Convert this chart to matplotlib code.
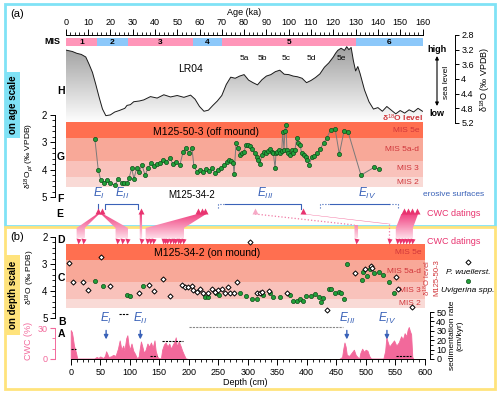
import numpy as np
import matplotlib
matplotlib.use('Agg')
import matplotlib.pyplot as plt
from matplotlib.patches import Rectangle
from matplotlib.path import Path
from matplotlib.ticker import MultipleLocator
from matplotlib.colors import LinearSegmentedColormap

plt.rcParams['font.family'] = ['Liberation Sans', 'DejaVu Sans']
plt.rcParams['mathtext.fontset'] = 'custom'
plt.rcParams['mathtext.rm'] = 'Liberation Sans'
plt.rcParams['mathtext.it'] = 'Liberation Sans:italic'
plt.rcParams['font.size'] = 6.5
plt.rcParams['axes.linewidth'] = 0.7

# ---------------- data ----------------
# marine isotope stages
mis_names = ['1', '2', '3', '4', '5', '6']
mis_start = [0, 14, 28, 57, 70, 130]
mis_end = [14, 28, 57, 70, 130, 160]
mis_colors = ['#FF96B9', '#8CC8FA', '#FF96B9', '#8CC8FA', '#FF96B9', '#8CC8FA']

# LR04 stack
lr04_age = [0, 3, 5, 7, 9, 10.5, 12, 13.5, 15, 16.5, 18, 20, 22, 24, 26.5, 27.5, 29, 30.5, 33, 35,
            38, 41, 44, 47, 50, 53, 56, 58, 60, 62, 64, 66, 68, 70, 72, 74, 76, 78, 80, 82,
            84, 86, 88, 90, 92, 94, 96, 98, 100, 102, 104, 106, 108, 110, 112, 114, 116, 118, 120, 121,
            122, 123.5, 125, 126, 127, 128, 129, 130, 131, 132, 134, 136, 138, 140, 142, 144, 146, 148, 150, 152,
            154, 156, 158, 160]
lr04_d18o = [3.21, 3.25, 3.30, 3.33, 3.40, 3.60, 3.82, 4.15, 4.50, 4.82, 5.00, 4.98, 4.90, 4.86, 4.80, 4.72, 4.70, 4.62, 4.60, 4.57,
             4.48, 4.52, 4.43, 4.49, 4.45, 4.50, 4.44, 4.55, 4.75, 4.88, 4.85, 4.72, 4.60, 4.45, 4.15, 3.95, 3.98, 3.92, 3.88, 4.03,
             4.10, 4.16, 4.02, 3.92, 3.88, 3.80, 3.76, 3.87, 3.88, 3.92, 3.94, 3.98, 4.10, 4.04, 3.96, 3.86, 3.68, 3.56, 3.40, 3.30,
             3.22, 3.16, 3.22, 3.12, 3.20, 3.14, 3.50, 3.78, 3.66, 3.85, 4.30, 4.62, 4.82, 4.78, 4.88, 4.75, 4.85, 4.95, 4.86, 4.93,
             4.84, 4.90, 4.80, 4.88]

# M125-50-3 (off mound) on age scale
g_age = [13.1, 14.6, 15.7, 17.2, 18.4, 19.9, 22.1, 23.6, 25.1, 26.1,
         27.4, 28.4, 29.6, 30.6, 31.8, 32.9, 34.2, 35.6, 36.9, 38.3,
         39.6, 40.9, 42.3, 43.6, 45.0, 46.8, 48.1, 49.5, 51.2, 52.6,
         53.9, 55.3, 56.6, 57.5, 58.9, 60.3, 61.6, 63.0, 64.3, 65.7,
         67.0, 68.4, 69.7, 71.0, 72.4, 73.3, 74.2, 75.1, 75.5, 76.4,
         77.3, 78.2, 79.1, 79.9, 80.8, 81.7, 82.6, 83.4, 84.9, 85.6,
         86.4, 87.1, 87.9, 88.9, 89.8, 90.9, 91.6, 92.4, 93.1, 93.9,
         94.3, 94.9, 95.5, 96.1, 96.9, 97.3, 97.9, 98.3, 98.8, 99.2,
         99.8, 100.6, 101.4, 102.1, 102.8, 103.6, 104.3, 105.1, 105.8, 106.9,
         107.8, 108.3, 109.2, 110.3, 111.3, 112.5, 114.0, 115.8, 117.0, 118.8,
         120.8, 122.7, 124.8, 126.6, 132.4, 138.2, 140.6]
g_d18o = [2.89, 4.01, 4.38, 4.50, 4.36, 4.50, 4.56, 4.33, 4.47, 4.48,
          4.50, 4.31, 3.95, 4.34, 3.94, 4.09, 3.83, 4.20, 3.94, 3.76,
          3.87, 3.80, 3.76, 3.65, 3.72, 3.58, 3.80, 3.72, 3.83, 3.36,
          3.21, 3.39, 3.21, 3.87, 4.09, 4.01, 4.09, 3.98, 4.05, 3.94,
          4.12, 4.01, 3.94, 3.83, 3.72, 3.65, 3.69, 3.76, 4.16, 3.03,
          3.21, 3.47, 3.39, 3.36, 3.10, 3.10, 3.14, 3.26, 3.40, 3.53,
          3.65, 3.81, 3.47, 3.34, 3.38, 3.31, 3.26, 3.34, 3.38, 3.95,
          3.40, 3.34, 3.28, 3.40, 3.31, 2.63, 3.28, 2.57, 2.35, 3.28,
          3.40, 3.48, 3.28, 3.40, 3.28, 2.85, 3.04, 3.10, 3.40, 3.47,
          3.55, 3.65, 3.83, 3.53, 3.50, 3.40, 3.26, 3.01, 2.85, 2.55,
          2.50, 3.43, 2.59, 2.61, 4.20, 3.92, 3.99]

# d18O levels of M125-50-3 (shaded bands)
band_names = ['MIS 5e', 'MIS 5a-d', 'MIS 3', 'MIS 2']
band_top = [2.27, 2.85, 3.67, 4.28]
band_bot = [2.85, 3.67, 4.28, 4.64]
band_colors = ['#FF6F50', '#F8A898', '#F9C2BB', '#F9DAD6']

# M125-34-2 (on mound) on depth scale
pw_depth = [-3, 4, 20, 30, 51, 67, 115, 132, 141, 157,
            168, 188, 194, 199, 205, 208, 214, 219, 225, 233,
            239, 245, 250, 256, 262, 267, 270, 277, 282, 304,
            315, 320, 324, 336, 366, 435, 482, 499, 509, 510,
            551, 555, 578]
pw_d18o = [2.98, 3.66, 3.66, 3.97, 2.73, 3.81, 4.09, 3.78, 4.00, 3.57,
           4.18, 3.78, 3.85, 3.87, 3.82, 3.97, 4.03, 3.94, 4.06, 4.06,
           3.94, 4.03, 3.97, 3.91, 4.06, 3.87, 4.06, 4.09, 3.66, 2.20,
           4.09, 4.07, 4.03, 4.00, 4.07, 4.69, 3.35, 3.19, 3.07, 3.14,
           3.47, 3.94, 4.60]
uv_depth = [41, 55, 96, 101, 122, 228, 233, 246, 252, 287,
            297, 307, 316, 326, 338, 343, 354, 372, 377, 383,
            389, 394, 399, 408, 414, 420, 424, 427, 438, 442,
            448, 454, 458, 463, 468, 493, 496, 503, 508, 514,
            523, 529, 540, 548]
uv_d18o = [3.62, 3.81, 4.13, 4.18, 3.81, 4.22, 4.22, 4.07, 4.16, 4.09,
           4.19, 4.28, 4.28, 4.16, 4.09, 4.22, 4.22, 4.16, 4.38, 4.38,
           4.31, 4.37, 4.19, 4.19, 4.12, 4.22, 4.40, 4.26, 3.91, 3.91,
           4.07, 4.03, 4.07, 4.31, 3.00, 3.60, 3.29, 3.45, 3.20, 3.35,
           3.29, 3.42, 3.66, 4.09]

# cold-water coral content (%)
cwc_depth = [0, 2, 3.5, 5.5, 9, 11, 40, 44, 47, 50, 55, 58, 60, 62, 64, 68, 72, 76, 80, 83,
             86, 89, 91, 94, 96, 98, 100, 103, 106, 109, 112, 115, 117, 119, 121, 124, 127, 130, 133, 136,
             139, 142, 144, 147, 150, 153, 155, 158, 161, 164, 167, 170, 173, 176, 178, 180, 183, 186, 189, 192,
             195, 200, 455, 460, 462, 464, 466, 468, 472, 476, 480, 483, 486, 489, 491, 494, 497, 500, 503, 506,
             509, 530, 533, 535, 537, 540, 544, 548, 552, 556, 560, 563, 566, 569, 571, 573, 575, 577, 579, 581]
cwc_pct = [28, 26, 21, 13, 6, 0.5, 0.5, 2, 1, 2.5, 1, 3, 7.5, 5, 2, 2.5, 4, 3, 10, 18,
           9, 13, 8, 20, 23, 14, 9, 15, 8, 5, 1, 2, 10, 17, 13, 6, 9, 15, 12, 16,
           11, 18, 8, 2, 0.5, 1, 9, 14, 16, 12, 15, 10, 14, 17, 21, 12, 17, 13, 8, 4,
           0.5, 0, 0, 2, 10, 16, 12, 4, 3, 6, 9, 4, 2, 0.5, 6, 10, 7, 9, 8, 3,
           0.5, 0.5, 8, 21, 17, 12, 15, 18, 13, 16, 22, 19, 25, 22, 28, 31, 27, 24, 2, 0]

# sedimentation rate segments (cm/kyr)
sr_start = [0, 81, 135, 155, 200, 552]
sr_end = [9, 97, 146, 190, 462, 577]
sr_value = [10.5, 48, 3, 19, 34, 3]
sr_color = ['black', 'black', 'black', 'black', '#888888', 'black']

# erosive surfaces
eros_labels = [r'$E_{I}$', r'$E_{II}$', r'$E_{III}$', r'$E_{IV}$']
eros_label_age = [14.9, 25.2, 89.4, 135.1]
eros_depth = [60, 118, 468, 536]

# CWC datings: positions on age scale (E) and depth scale (D)
date_age = [14.5, 16.3, 33.7, 59.5, 61, 62.5, 106.4, 151.5, 153.5, 155.5, 157.5]
date_age_faded = [84.9]
date_depth = [12, 21, 78, 87, 95, 119, 129, 134, 139, 156, 160, 163, 168, 173, 177, 181, 185, 190,
              484, 540, 553, 558, 563, 568, 573, 578]
# links (age0, age1, depth0, depth1)
links = [(14.0, 15.0, 10, 24), (15.8, 16.8, 76, 97), (33.2, 34.2, 117, 121),
         (59, 63, 127, 192), (150.5, 158, 551, 580)]

W, H = 500, 397
fig = plt.figure(figsize=(W / 100, H / 100), dpi=100)


def rect(x0, y0, x1, y1):
    return [x0 / W, 1 - y1 / H, (x1 - x0) / W, (y1 - y0) / H]


PINK = '#F2699B'
MAG = '#E8336F'
BLUE = '#3A62B8'
RED = '#D0353A'

# ---------------- LR04 ----------------
ax_lr = fig.add_axes(rect(65.7, 35, 422.5, 123))
ax_lr.patch.set_visible(False)
fill = ax_lr.fill_between(lr04_age, lr04_d18o, 5.2, color='none', lw=0)
grad = np.linspace(0, 1, 256).reshape(-1, 1)
cm_g = LinearSegmentedColormap.from_list('g', ['#9A9A9A', '#FFFFFF'])
im = ax_lr.imshow(grad, extent=[0, 160, 5.2, 3.0], cmap=cm_g, aspect='auto', zorder=1)
im.set_clip_path(fill.get_paths()[0], transform=ax_lr.transData)
ax_lr.plot(lr04_age, lr04_d18o, color='#1A1A1A', lw=0.7, zorder=2)
ax_lr.set_xlim(0, 160)
ax_lr.set_ylim(5.2, 2.8)
for s in ['left', 'bottom']:
    ax_lr.spines[s].set_visible(False)
ax_lr.xaxis.tick_top()
ax_lr.xaxis.set_label_position('top')
ax_lr.set_xticks(np.arange(0, 161, 10))
ax_lr.xaxis.set_minor_locator(MultipleLocator(2))
ax_lr.tick_params(axis='x', which='major', length=4, width=0.7, pad=2, labelsize=6.5)
ax_lr.tick_params(axis='x', which='minor', length=2.3, width=0.6)
ax_lr.set_xlabel('Age (ka)', fontsize=6.5, labelpad=2)
ax_lr.spines['right'].set_position(('outward', 23.4))
ax_lr.spines['right'].set_bounds(2.8, 5.2)
ax_lr.yaxis.tick_right()
ax_lr.yaxis.set_label_position('right')
lr_ticks = [2.8, 3.2, 3.6, 4.0, 4.4, 4.8, 5.2]
ax_lr.set_yticks(lr_ticks)
ax_lr.set_yticklabels(['%g' % t for t in lr_ticks])
ax_lr.tick_params(axis='y', length=3, width=0.7, pad=1.5, labelsize=6.5)
ax_lr.set_ylabel('δ$^{18}$O (‰ VPDB)', fontsize=6.5, labelpad=3)
ax_lr.text(56, 3.72, 'LR04', fontsize=7.5, ha='center', va='center')
for lab, a in zip(['5a', '5b', '5c', '5d', '5e'], [80, 88, 99, 110, 123.8]):
    ax_lr.text(a, 3.44, lab, fontsize=6, ha='center', va='center')

# MIS bar
ax_mis = fig.add_axes(rect(65.7, 38, 422.5, 46))
ax_mis.barh(0, np.array(mis_end) - np.array(mis_start), left=mis_start, height=1,
            color=mis_colors, lw=0)
for n, a0, a1 in zip(mis_names, mis_start, mis_end):
    ax_mis.text((a0 + a1) / 2, 0, n, ha='center', va='center', fontsize=6, fontweight='bold')
ax_mis.text(-2.5, 0, 'MIS', ha='right', va='center', fontsize=6.5, fontweight='bold')
ax_mis.set_xlim(0, 160)
ax_mis.set_ylim(-0.5, 0.5)
ax_mis.axis('off')

# ---------------- G: M125-50-3 ----------------
ax_g = fig.add_axes(rect(65.7, 115, 422.5, 197))
ax_g.patch.set_visible(False)
ax_g.set_xlim(0, 160)
ax_g.set_ylim(5, 2)
for nm, t, b, c in zip(band_names, band_top, band_bot, band_colors):
    ax_g.axhspan(t, b, xmin=0.001, xmax=1.004, color=c, lw=0, zorder=0)
    ax_g.text(158.5, (t + b) / 2, nm, color=RED, fontsize=6, ha='right', va='center')
ax_g.text(63, 2.64, 'M125-50-3 (off mound)', ha='center', va='center', fontsize=7.5)
ax_g.plot(g_age, g_d18o, '-', color='#7A7A7A', lw=0.7, zorder=2)
ax_g.plot(g_age, g_d18o, 'o', ms=3.0, mfc='#22A03A', mec='#0F4D1A', mew=0.5, zorder=3)

# ---------------- C: M125-34-2 ----------------
ax_c = fig.add_axes(rect(66, 237, 424.7, 318))
ax_c.patch.set_visible(False)
ax_c.set_xlim(-8, 600)
ax_c.set_ylim(5, 2)
for nm, t, b, c in zip(band_names, band_top, band_bot, band_colors):
    ax_c.axhspan(t, b, color=c, lw=0, zorder=0)
    ax_c.text(594, (t + b) / 2, nm, color=RED, fontsize=6, ha='right', va='center')
ax_c.text(231, 2.6, 'M125-34-2 (on mound)', ha='center', va='center', fontsize=7.5)
ax_c.plot(uv_depth, uv_d18o, 'o', ms=3.0, mfc='#22A03A', mec='#0F4D1A', mew=0.5, zorder=3)
ax_c.plot(pw_depth, pw_d18o, 'D', ms=2.6, mfc='white', mec='black', mew=0.7, zorder=4)

for ax, lab in [(ax_g, 'δ$^{18}$O$_{pf}$ (‰ VPDB)'), (ax_c, 'δ$^{18}$O (‰ PDB)')]:
    for s in ['top', 'right', 'bottom']:
        ax.spines[s].set_visible(False)
    ax.spines['left'].set_position(('outward', 7.8))
    ax.spines['left'].set_bounds(2, 5)
    ax.set_xticks([])
    ax.set_yticks([2, 3, 4, 5])
    ax.yaxis.set_minor_locator(MultipleLocator(0.2))
    ax.tick_params(axis='y', which='major', length=3.5, width=0.7, pad=2, labelsize=7)
    ax.tick_params(axis='y', which='minor', length=2, width=0.6)
    ax.set_ylabel(lab, fontsize=6, labelpad=4)

# ---------------- A: CWC content + sedimentation rate ----------------
ax_a = fig.add_axes(rect(66, 312, 424.7, 359))
ax_a.patch.set_visible(False)
ax_a.fill_between(cwc_depth, cwc_pct, 0, color=PINK, lw=0.6, edgecolor=PINK)
ax_a.set_xlim(-8, 600)
ax_a.set_ylim(0, 45.5)
ax_a.spines['top'].set_visible(False)
ax_a.spines['right'].set_visible(False)
ax_a.spines['bottom'].set_bounds(0, 600)
ax_a.spines['left'].set_position(('outward', 7.8))
ax_a.spines['left'].set_bounds(0, 30)
ax_a.spines['left'].set_color(PINK)
ax_a.set_xticks(np.arange(0, 601, 50))
ax_a.xaxis.set_minor_locator(MultipleLocator(10))
ax_a.tick_params(axis='x', which='major', length=4, width=0.7, pad=2.5, labelsize=6.5)
ax_a.tick_params(axis='x', which='minor', length=2.3, width=0.6)
ax_a.set_yticks([0, 30])
ax_a.set_yticks([10, 20], minor=True)
ax_a.tick_params(axis='y', which='both', colors=PINK, labelsize=6.5, pad=2)
ax_a.tick_params(axis='y', which='major', length=3.5)
ax_a.tick_params(axis='y', which='minor', length=2)
ax_a.set_xlabel('Depth (cm)', fontsize=6.5, labelpad=1)
ax_a.set_ylabel('CWC (%)', color=PINK, fontsize=6.5)
ax_a.yaxis.set_label_coords(-0.092, 0.38)

ax_sr = ax_a.twinx()
ax_sr.patch.set_visible(False)
ax_sr.set_ylim(0, 50)
for s in ['top', 'left', 'bottom']:
    ax_sr.spines[s].set_visible(False)
ax_sr.spines['right'].set_position(('outward', 3.8))
ax_sr.set_yticks(np.arange(0, 51, 10))
ax_sr.yaxis.set_minor_locator(MultipleLocator(5))
ax_sr.tick_params(axis='y', which='major', length=3, width=0.7, pad=1.5, labelsize=6.5)
ax_sr.tick_params(axis='y', which='minor', length=1.8, width=0.6)
ax_sr.set_ylabel('sedimentation rate\n(cm/kyr)', fontsize=6, labelpad=2, linespacing=1.1)
for s0, s1, v, c in zip(sr_start, sr_end, sr_value, sr_color):
    ax_sr.plot([s0, s1], [v, v], ls=(0, (2, 1)), color=c, lw=0.8)

for lab, d in zip(eros_labels, eros_depth):
    ax_a.annotate(lab, xy=(d, 19), xytext=(d, 39), color=BLUE, fontsize=8.5,
                  ha='center', va='center',
                  arrowprops=dict(arrowstyle='-|>', color=BLUE, lw=1.0, mutation_scale=6,
                                  shrinkA=1, shrinkB=0))

# ---------------- overlay (pixel coordinates) ----------------
ov = fig.add_axes([0, 0, 1, 1])
ov.set_xlim(0, W)
ov.set_ylim(H, 0)
ov.axis('off')
ov.set_zorder(10)


def age_px(a):
    return ax_lr.transData.transform((a, 4))[0]


def depth_px(d):
    return ax_a.transData.transform((d, 0))[0]


# panel frames and side tabs
ov.add_patch(Rectangle((5, 4), 490, 222, fill=False, ec='#80E2F6', lw=2))
ov.add_patch(Rectangle((5, 227), 490, 162, fill=False, ec='#FFE37C', lw=2))
ov.add_patch(Rectangle((5, 72), 15, 66, fc='#80E2F6', ec='none'))
ov.add_patch(Rectangle((5, 255), 15, 80, fc='#FFE37C', ec='none'))
ov.text(13, 105, 'on age scale', rotation=90, ha='center', va='center', fontsize=7, fontweight='bold')
ov.text(13, 295, 'on depth scale', rotation=90, ha='center', va='center', fontsize=7, fontweight='bold')
ov.text(10, 14, '(a)', fontsize=8, va='center')
ov.text(10, 237, '(b)', fontsize=8, va='center')

for lab, x, y in [('H', 61, 91), ('G', 61, 157), ('F', 60, 199), ('E', 60, 214),
                  ('D', 61, 240), ('C', 61, 278), ('B', 62, 322), ('A', 61, 334)]:
    ov.text(x, y, lab, fontsize=7.5, fontweight='bold', ha='center', va='center')

# sea level arrow
ov.annotate('', xy=(437, 56), xytext=(437, 106),
            arrowprops=dict(arrowstyle='<|-|>', lw=0.8, color='black', mutation_scale=5,
                            shrinkA=0, shrinkB=0))
ov.text(437, 50, 'high', fontsize=6.5, fontweight='bold', ha='center', va='center')
ov.text(437, 113, 'low', fontsize=6.5, fontweight='bold', ha='center', va='center')
ov.text(446, 82, 'sea level', fontsize=6, rotation=90, ha='center', va='center')
ov.text(423, 118, 'δ$^{18}$O level', fontsize=6, color=RED, fontweight='bold', ha='right', va='center')

# erosive surfaces in E row
ov.text(192, 195, 'M125-34-2', fontsize=7, ha='center', va='center')
for lab, a in zip(eros_labels, eros_label_age):
    ov.text(age_px(a), 193, lab, color=BLUE, fontsize=8.5, ha='center', va='center')
ov.text(423, 195, 'erosive surfaces', color=BLUE, fontsize=6, ha='left', va='center')
ov.plot([age_px(14.6)] * 2, [204, 209], color=BLUE, lw=0.8)
xa, xb = age_px(17.7), age_px(32.4)
ov.plot([xa, xa, xb, xb], [209, 204, 204, 209], color=BLUE, lw=0.8)
xa, xm, xb = age_px(68.4), age_px(71.5), age_px(105.5)
ov.plot([xa, xa, xm], [208, 204, 204], color=BLUE, lw=0.8, ls=':')
ov.plot([xm, xb, xb], [204, 204, 209], color=BLUE, lw=0.8)
xa, xm, xn, xb = age_px(114.1), age_px(118.5), age_px(145), age_px(149)
ov.plot([xa, xa, xm], [208, 204, 204], color=BLUE, lw=0.8, ls=':')
ov.plot([xm, xn], [204, 204], color=BLUE, lw=0.8)
ov.plot([xn, xb, xb], [204, 204, 208], color=BLUE, lw=0.8, ls=':')

# links between CWC datings
verts, codes = [], []
for a0, a1, d0, d1 in links:
    pts = [(age_px(a0), 214), (age_px(a1), 214), (depth_px(d1), 228), (depth_px(d1), 238),
           (depth_px(d0), 238), (depth_px(d0), 228), (age_px(a0), 214)]
    verts += pts
    codes += [Path.MOVETO] + [Path.LINETO] * 5 + [Path.CLOSEPOLY]
x303 = age_px(106.4)
pts = [(x303 - 1, 214), (x303 + 1.5, 214), (depth_px(540) + 2, 224), (depth_px(540) - 3, 224),
       (x303 - 1, 214)]
verts += pts
codes += [Path.MOVETO] + [Path.LINETO] * 3 + [Path.CLOSEPOLY]
pts = [(depth_px(481), 225), (depth_px(487), 225), (depth_px(487), 238), (depth_px(481), 238),
       (depth_px(481), 225)]
verts += pts
codes += [Path.MOVETO] + [Path.LINETO] * 3 + [Path.CLOSEPOLY]
link_path = Path(verts, codes)
g = np.linspace(0, 1, 64)
top_c = np.array([0.94, 0.22, 0.48])
bot_c = np.array([1.0, 0.88, 0.92])
rgba = np.ones((64, 1, 4))
rgba[:, 0, :3] = top_c[None, :] * (1 - g[:, None]) + bot_c[None, :] * g[:, None]
im2 = ov.imshow(rgba, extent=[0, W, 239, 212], aspect='auto', zorder=1, interpolation='bilinear')
im2.set_clip_path(link_path, transform=ov.transData)
ov.set_xlim(0, W)
ov.set_ylim(H, 0)

ov.plot([age_px(84.9), depth_px(481)], [214, 225], ls=':', color='#F07AA5', lw=0.9)
ov.plot([depth_px(540)] * 2, [224, 238], ls=':', color='#F07AA5', lw=0.9)

# dating triangles
ov.plot([age_px(a) for a in date_age], [211] * len(date_age), '^', ms=5, color=MAG, mec='none', zorder=3)
ov.plot([age_px(a) for a in date_age_faded], [211] * len(date_age_faded), '^', ms=5,
        color='#F6A9C6', mec='none', zorder=3)
ov.plot([depth_px(d) for d in date_depth], [240.5] * len(date_depth), 'v', ms=3.6, color=MAG,
        mec='none', zorder=3)
ov.text(427, 213, 'CWC datings', color=MAG, fontsize=6.5, ha='left', va='center')
ov.text(427, 241, 'CWC datings', color=MAG, fontsize=6.5, ha='left', va='center')

# level label and legend for C
ov.text(431, 278, 'δ$^{18}$O level\nM125-50-3', color=RED, fontsize=5.5, rotation=90,
        ha='center', va='center', linespacing=1.1)
ov.plot([468], [262], 'D', ms=2.6, mfc='white', mec='black', mew=0.7)
ov.text(468, 272, 'P. wuellerst.', fontsize=6, style='italic', ha='center', va='center')
ov.plot([468], [281], 'o', ms=3.0, mfc='#22A03A', mec='#0F4D1A', mew=0.5)
ov.text(468, 290, 'Uvigerina spp.', fontsize=6, style='italic', ha='center', va='center')

fig.savefig('out.png', dpi=100)
